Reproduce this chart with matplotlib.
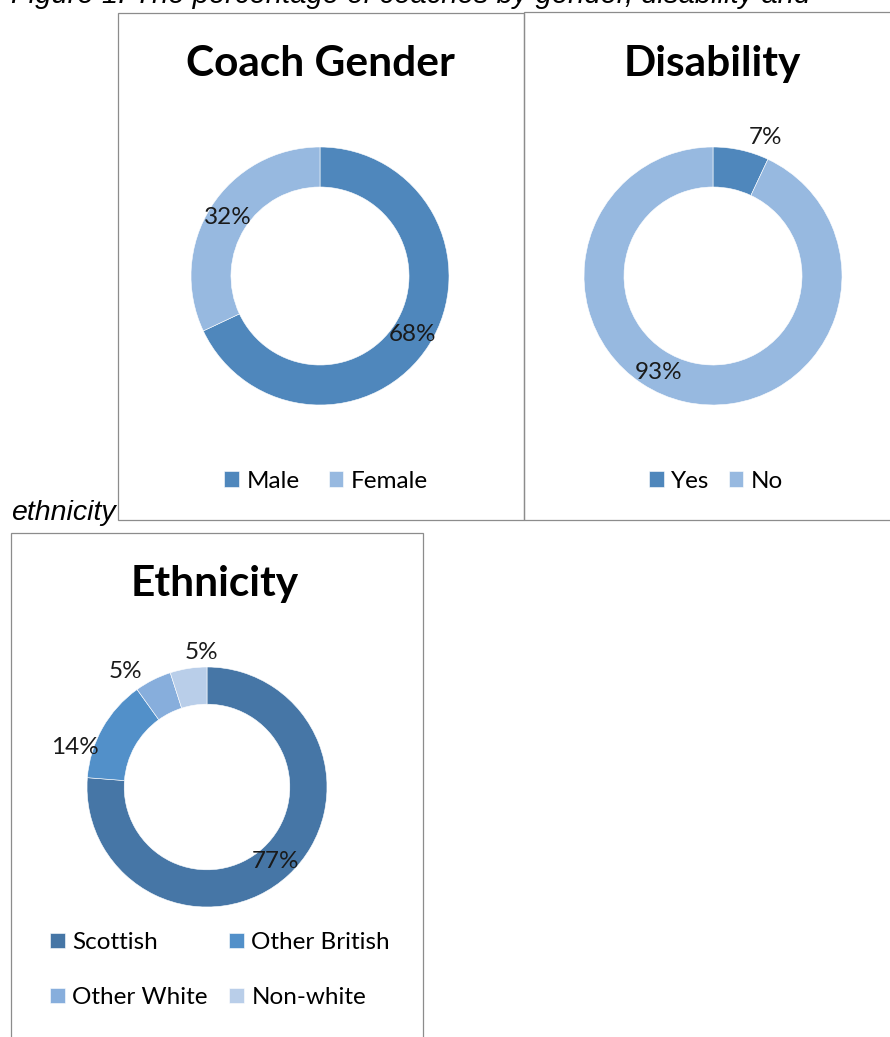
import matplotlib
matplotlib.use("Agg")
import matplotlib.pyplot as plt
from matplotlib.patches import Rectangle
import numpy as np

# ---------------------------------------------------------------
# Coach survey breakdowns (percent)
# ---------------------------------------------------------------
gender_labels = ["Male", "Female"]
gender_values = [68, 32]

disability_labels = ["Yes", "No"]
disability_values = [7, 93]

ethnicity_labels = ["Scottish", "Other British", "Other White", "Non-white"]
ethnicity_values = [77, 14, 5, 5]

gender_colors = ["#4F87BC", "#97B9E0"]
disability_colors = ["#4F87BC", "#97B9E0"]
ethnicity_colors = ["#4676A6", "#5290C9", "#87AEDC", "#B9CEE9"]

W, H = 890, 1037
DPI = 100
fig = plt.figure(figsize=(W / DPI, H / DPI), dpi=DPI)
fig.patch.set_facecolor("white")

chart_font = "Lato"
caption_font = "Liberation Sans"
value_size = 17.5


def fx(x):
    return x / W


def fy(y):
    return 1 - y / H


def frame(x0, y0, x1, y1):
    # chart border, given in pixel corners
    fig.patches.append(Rectangle((fx(x0), fy(y1)), fx(x1) - fx(x0), fy(y0) - fy(y1),
                                 transform=fig.transFigure, fill=False,
                                 edgecolor="#8C8C8C", linewidth=0.9))


def donut(cx, cy, r, values, colors, label_pos=None):
    # axes spans exactly the outer circle, so data units = outer radius
    ax = fig.add_axes([fx(cx - r), fy(cy + r), 2 * r / W, 2 * r / H])
    wedges, _ = ax.pie(values, colors=colors, startangle=90, counterclock=False,
                       radius=1.0, wedgeprops=dict(width=0.31, edgecolor="white", linewidth=0.4))
    ax.set_xlim(-1, 1)
    ax.set_ylim(-1, 1)
    ax.set_aspect("equal")
    ax.axis("off")

    total = float(sum(values))
    start = 90.0
    for i, v in enumerate(values):
        sweep = v / total * 360.0
        mid = np.deg2rad(start - sweep / 2)
        if label_pos is not None and label_pos[i] is not None:
            lx, ly = label_pos[i]
        else:
            lx, ly = 0.845 * np.cos(mid), 0.845 * np.sin(mid)
        ax.text(lx, ly, f"{v}%", ha="center", va="center", fontsize=value_size,
                family=chart_font, color="#1A1A1A", clip_on=False)
        start -= sweep
    return ax, wedges


# figure caption (running text around the charts)
fig.text(fx(11), fy(3), "Figure 1: The percentage of coaches by gender, disability and",
         family=caption_font, style="italic", fontsize=21, ha="left", va="baseline")
fig.text(fx(11), fy(520), "ethnicity", family=caption_font, style="italic",
         fontsize=20.5, ha="left", va="baseline")

# chart frames
frame(118, 13, 524, 520)
frame(524, 12, 896, 520)
frame(11, 533, 423, 1045)

# titles
title_kw = dict(family=chart_font, fontweight="bold", fontsize=30.5, ha="center", va="baseline")
fig.text(fx(320), fy(76), "Coach Gender", **title_kw)
fig.text(fx(712), fy(76), "Disability", **title_kw)
fig.text(fx(215), fy(596), "Ethnicity", **title_kw)

# doughnuts
ax1, w1 = donut(320, 276, 129, gender_values, gender_colors)
ax2, w2 = donut(713, 276, 129, disability_values, disability_colors,
                label_pos=[(0.41, 1.07), (-0.42, -0.75)])
ax3, w3 = donut(207, 787, 120, ethnicity_values, ethnicity_colors,
                label_pos=[None, (-1.10, 0.33), (-0.68, 0.96), (-0.05, 1.12)])

# legends
leg_kw = dict(frameon=False, handlelength=0.6, handleheight=0.6, handletextpad=0.3,
              borderpad=0, borderaxespad=0, loc="center",
              prop=dict(family=chart_font, size=value_size))
fig.legend(w1, gender_labels, bbox_to_anchor=(fx(326), fy(481)), ncol=2,
           columnspacing=1.2, **leg_kw)
fig.legend(w2, disability_labels, bbox_to_anchor=(fx(716), fy(481)), ncol=2,
           columnspacing=0.8, **leg_kw)
# legend columns fill top-down, so reorder to read across rows
row_order = [0, 2, 1, 3]
fig.legend([w3[i] for i in row_order], [ethnicity_labels[i] for i in row_order],
           bbox_to_anchor=(fx(220), fy(970)), ncol=2,
           columnspacing=0.9, labelspacing=1.4, **leg_kw)

fig.savefig("out.png", dpi=DPI, facecolor="white")
